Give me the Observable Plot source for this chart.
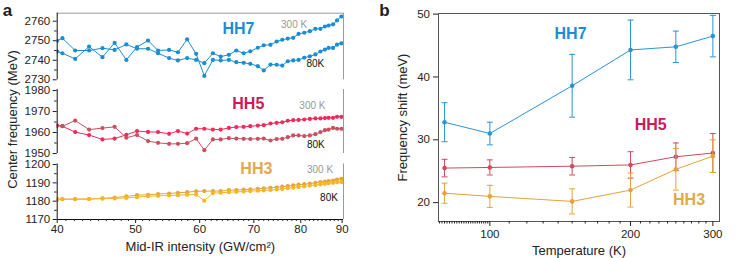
<!DOCTYPE html>
<html><head><meta charset="utf-8">
<script src="https://cdn.jsdelivr.net/npm/d3@7"></script>
<script src="https://cdn.jsdelivr.net/npm/@observablehq/plot@0.6"></script>
<style>
body{margin:0;background:#fff;}
#root{position:relative;width:748px;height:258px;overflow:hidden;font-family:"Liberation Sans",Arial,Helvetica,sans-serif;}
#root svg{position:absolute;overflow:visible;}
</style></head><body><div id="root"></div>
<script>
// ---------- Panel a data ----------
const intensity = [40.0, 40.6, 42.1, 43.8, 45.5, 47.1, 48.7, 50.2, 51.8, 53.3, 55.0, 56.4, 57.9, 59.4, 60.8, 62.3, 63.7, 65.2, 66.6, 68.0, 69.3, 70.8, 72.0, 73.4, 74.7, 75.9, 77.1, 78.3, 79.5, 80.8, 82.1, 83.4, 84.6, 85.7, 86.6, 87.7, 88.7, 89.8];
const hh7_300K = [2750.0, 2751.3, 2745.0, 2745.0, 2746.2, 2745.3, 2748.1, 2745.9, 2745.9, 2743.6, 2741.1, 2739.9, 2741.1, 2740.2, 2738.5, 2743.6, 2741.9, 2742.8, 2745.0, 2743.6, 2744.6, 2746.4, 2747.7, 2747.9, 2749.6, 2750.5, 2751.1, 2751.5, 2753.5, 2754.1, 2754.9, 2756.1, 2756.1, 2757.3, 2757.8, 2758.4, 2760.4, 2762.4];
const hh7_80K = [2744.5, 2743.6, 2740.7, 2747.0, 2741.6, 2748.9, 2740.2, 2746.8, 2750.1, 2745.0, 2745.3, 2744.1, 2750.7, 2743.3, 2732.0, 2740.2, 2739.9, 2740.2, 2739.0, 2738.7, 2738.2, 2737.0, 2734.8, 2737.8, 2737.7, 2737.3, 2739.5, 2739.9, 2740.2, 2741.3, 2742.0, 2743.0, 2744.5, 2745.5, 2746.3, 2746.3, 2748.0, 2748.7];
const hh5_300K = [1963.3, 1963.0, 1960.2, 1958.8, 1956.7, 1957.1, 1958.9, 1960.7, 1960.3, 1960.2, 1959.4, 1960.7, 1959.5, 1961.8, 1961.8, 1961.4, 1961.4, 1962.2, 1962.6, 1962.7, 1963.0, 1963.3, 1963.5, 1964.3, 1964.6, 1964.9, 1965.6, 1965.9, 1966.0, 1966.2, 1966.5, 1966.7, 1966.7, 1966.9, 1967.0, 1967.0, 1967.5, 1967.5];
const hh5_80K = [1963.3, 1963.0, 1965.7, 1961.4, 1962.1, 1962.7, 1957.5, 1958.8, 1955.9, 1955.1, 1954.6, 1954.6, 1954.9, 1957.1, 1951.6, 1956.7, 1956.7, 1957.3, 1957.1, 1957.0, 1956.9, 1957.0, 1957.1, 1956.2, 1956.9, 1957.0, 1957.8, 1958.6, 1958.6, 1958.3, 1958.6, 1959.2, 1960.2, 1961.1, 1961.4, 1962.2, 1961.8, 1961.8];
const hh3_300K = [1181.0, 1181.1, 1181.1, 1181.2, 1181.5, 1182.0, 1182.6, 1183.3, 1183.5, 1183.9, 1184.2, 1184.6, 1184.9, 1185.4, 1185.5, 1185.5, 1185.5, 1186.0, 1186.1, 1186.3, 1186.4, 1186.8, 1187.0, 1187.3, 1187.6, 1187.9, 1188.3, 1188.7, 1189.0, 1189.3, 1189.6, 1190.0, 1190.4, 1190.7, 1191.0, 1191.3, 1191.8, 1192.2];
const hh3_80K = [1181.0, 1181.1, 1181.1, 1181.2, 1181.4, 1181.5, 1181.8, 1182.2, 1182.7, 1182.9, 1183.1, 1183.3, 1183.5, 1183.6, 1180.3, 1184.4, 1184.6, 1184.9, 1185.1, 1185.3, 1185.5, 1185.7, 1185.9, 1186.1, 1186.4, 1186.7, 1187.1, 1187.4, 1187.8, 1188.1, 1188.5, 1188.8, 1189.2, 1189.5, 1189.8, 1190.0, 1190.3, 1190.5];
const intensityTicks = [40, 50, 60, 70, 80, 90];
const hh7Ticks = [2730, 2740, 2750, 2760];
const hh5Ticks = [1950, 1960, 1970, 1980];
const hh3Ticks = [1170, 1180, 1190, 1200];

// ---------- Panel b data ----------
const temperature = [80, 100, 150, 200, 250, 300];
const shift_hh7 = [32.8, 31.0, 38.6, 44.3, 44.8, 46.5];
const err_hh7 = [3.1, 1.8, 5.0, 4.75, 2.5, 3.3];
const shift_hh5 = [25.5, 25.6, 25.8, 26.0, 27.3, 27.9];
const err_hh5 = [1.4, 1.2, 1.4, 2.1, 2.2, 3.1];
const shift_hh3 = [21.5, 21.0, 20.2, 22.0, 25.3, 27.4];
const err_hh3 = [1.6, 1.75, 2.0, 2.7, 3.3, 2.6];
const temperatureTicks = [100, 200, 300];
const shiftTicks = [20, 30, 40, 50];

// ---------- styling ----------
const FONT = "Liberation Sans, Arial, Helvetica, sans-serif";
const C7 = "#1c8dd0", C5a = "#ef2a5c", C5b = "#c9505f", C3a = "#e5a43c", C3b = "#f6b626";
const L7 = "#1c8dd0", L5 = "#cc1a5a", L3 = "#e2a84c";
const root = document.getElementById("root");
const fmt = d3.format("d");
const blank = () => "";
const capSymbol = {draw(ctx) { ctx.moveTo(-3, 0); ctx.lineTo(3, 0); }};

const rows = (ys) => intensity.map((x, i) => ({x, y: ys[i]}));
const xDomainA = [40, 90.35];
const minorA = d3.range(41, 90).filter(d => d % 10 !== 0);

function subplot(o) {
  const marks = [
    Plot.ruleY([o.yDomain[1]], {stroke: "#9a9a9a", strokeWidth: 1, strokeOpacity: o.top ? 1 : 0}),
    Plot.ruleX([xDomainA[1]], {stroke: "#9a9a9a", strokeWidth: 1}),
  ];
  for (const s of o.series) {
    marks.push(Plot.line(rows(s.ys), {x: "x", y: "y", stroke: s.color, strokeWidth: 1, clip: true}));
    marks.push(Plot.dot(rows(s.ys), {x: "x", y: "y", r: 2.1, fill: s.color, clip: true}));
  }
  marks.push(Plot.ruleX([xDomainA[0]], {stroke: "#111", strokeWidth: 1}));
  marks.push(Plot.axisY({ticks: o.yTicks, tickSize: 4, tickPadding: 3, tickFormat: fmt, label: null}));
  marks.push(Plot.axisY({ticks: o.yMinor, tickSize: 2.5, tickFormat: blank, label: null}));
  marks.push(Plot.text([o.name], {x: () => o.name.x, y: () => o.name.y, text: () => o.name.text, fill: o.name.fill, fontSize: 16, fontWeight: "bold"}));
  marks.push(Plot.text(o.notes, {x: "x", y: "y", text: "text", fill: "fill", fontSize: 10}));
  if (o.bottom) {
    marks.push(Plot.ruleY([o.yDomain[0]], {stroke: "#111", strokeWidth: 1}));
    marks.push(Plot.axisX({ticks: intensityTicks, tickSize: 4, tickPadding: 1, tickFormat: fmt, label: null}));
    marks.push(Plot.axisX({ticks: minorA, tickSize: 2, tickFormat: blank, label: null}));
    marks.push(Plot.text(["Mid-IR intensity (GW/cm²)"], {frameAnchor: "bottom", text: d => d, dy: 27.7, fontSize: 13, lineAnchor: "middle", textAnchor: "middle"}));
  }
  if (o.extra) marks.push(...o.extra);
  const p = Plot.plot({
    width: 352, height: o.height,
    marginLeft: 56.7, marginRight: 9, marginTop: o.mt, marginBottom: o.mb,
    x: {type: "log", domain: xDomainA, axis: null},
    y: {domain: o.yDomain, axis: null},
    style: {fontFamily: FONT, fontSize: "11.5px", color: "#222", background: "transparent", overflow: "visible"},
    marks
  });
  p.style.left = "0px"; p.style.top = o.svgTop + "px";
  return p;
}

const name7 = {x: 67.0, y: 2756.3, text: "HH7", fill: L7};
const name5 = {x: 68.9, y: 1973.8, text: "HH5", fill: L5};
const name3 = {x: 70.5, y: 1197.4, text: "HH3", fill: L3};
const notes7 = [
  {x: 78.5, y: 2758.3, text: "300 K", fill: "#999"},
  {x: 83.4, y: 2738.3, text: "80K", fill: "#111"}
];
const notes5 = [
  {x: 82.7, y: 1972.9, text: "300 K", fill: "#999"},
  {x: 83.5, y: 1954.3, text: "80K", fill: "#111"}
];
const notes3 = [
  {x: 84.5, y: 1197.4, text: "300 K", fill: "#999"},
  {x: 86.7, y: 1182.1, text: "80K", fill: "#111"}
];

const pA7 = subplot({svgTop: 0, height: 84, mt: 12.7, mb: 4.7, yDomain: [2730, 2764.1], yTicks: hh7Ticks,
  yMinor: [2735, 2745, 2755], top: true, notes: notes7, name: name7,
  series: [{ys: hh7_300K, color: C7}, {ys: hh7_80K, color: C7}],
  extra: [Plot.text(["a"], {frameAnchor: "top-left", text: d => d, dx: -49.7, dy: -2.7, fontSize: 17, fontWeight: "bold", textAnchor: "middle", lineAnchor: "middle"})]});
const pA3 = subplot({svgTop: 158, height: 100, mt: 5.5, mb: 39, yDomain: [1170, 1200.3], yTicks: hh3Ticks,
  yMinor: [1175, 1185, 1195], notes: notes3, name: name3, bottom: true,
  series: [{ys: hh3_300K, color: C3a}, {ys: hh3_80K, color: C3b}]});
const pA5 = subplot({svgTop: 84, height: 74, mt: 5, mb: 5, yDomain: [1950, 1980.5], yTicks: hh5Ticks,
  yMinor: [1955, 1965, 1975], notes: notes5, name: name5,
  series: [{ys: hh5_300K, color: C5a}, {ys: hh5_80K, color: C5b}],
  extra: [Plot.text(["Center frequency (MeV)"], {frameAnchor: "left", text: d => d, rotate: -90, dx: -44.7, dy: -2, fontSize: 13, textAnchor: "middle", lineAnchor: "middle"})]});
root.append(pA7, pA3, pA5);

// ---------- Panel b ----------
function bRows(ys, errs) { return temperature.map((T, i) => ({T, y: ys[i], lo: ys[i] - errs[i], hi: ys[i] + errs[i]})); }
const seriesB = [
  {data: bRows(shift_hh5, err_hh5), color: "#cf4a5e"},
  {data: bRows(shift_hh3, err_hh3), color: "#e2a23e"},
  {data: bRows(shift_hh7, err_hh7), color: "#2a94d4"}
];
const notesB = [
  {x: 148.8, y: 46.9, text: "HH7", fill: L7},
  {x: 220.8, y: 32.4, text: "HH5", fill: L5},
  {x: 266.8, y: 20.5, text: "HH3", fill: L3}
];
const minorB = d3.range(78, 100).concat(d3.range(110, 300, 10).filter(d => d !== 200));
const marksB = [Plot.frame({stroke: "#555", strokeWidth: 1})];
for (const s of seriesB) {
  marksB.push(Plot.ruleX(s.data, {x: "T", y1: "lo", y2: "hi", stroke: s.color, strokeWidth: 1}));
  marksB.push(Plot.dot(s.data, {x: "T", y: "lo", symbol: capSymbol, stroke: s.color, fill: "none", strokeWidth: 1}));
  marksB.push(Plot.dot(s.data, {x: "T", y: "hi", symbol: capSymbol, stroke: s.color, fill: "none", strokeWidth: 1}));
  marksB.push(Plot.line(s.data, {x: "T", y: "y", stroke: s.color, strokeWidth: 1}));
  marksB.push(Plot.dot(s.data, {x: "T", y: "y", r: 2.3, fill: s.color}));
}
marksB.push(
  Plot.axisY({ticks: shiftTicks, tickSize: 5, tickPadding: 3.5, tickFormat: fmt, label: null}),
  Plot.axisX({ticks: temperatureTicks, tickSize: 5, tickPadding: 3, tickFormat: fmt, label: null}),
  Plot.axisX({ticks: minorB, tickSize: 2.5, tickFormat: blank, label: null}),
  Plot.text(notesB, {x: "x", y: "y", text: "text", fill: "fill", fontSize: 16, fontWeight: "bold"}),
  Plot.text(["Temperature (K)"], {frameAnchor: "bottom", text: d => d, dy: 29.7, fontSize: 13, lineAnchor: "middle", textAnchor: "middle"}),
  Plot.text(["Frequency shift (meV)"], {frameAnchor: "left", text: d => d, rotate: -90, dx: -36, fontSize: 13, textAnchor: "middle", lineAnchor: "middle"}),
  Plot.text(["b"], {frameAnchor: "top-left", text: d => d, dx: -54, dy: -3, fontSize: 17, fontWeight: "bold", textAnchor: "middle", lineAnchor: "middle"})
);
const pB = Plot.plot({
  width: 368, height: 258,
  marginLeft: 58, marginRight: 29, marginTop: 13, marginBottom: 37,
  x: {type: "log", domain: [77.65, 310], axis: null},
  y: {domain: [17, 50.1], axis: null},
  style: {fontFamily: FONT, fontSize: "11.5px", color: "#222", background: "transparent", overflow: "visible"},
  marks: marksB
});
pB.style.left = "380px"; pB.style.top = "0px";
root.append(pB);
</script></body></html>
